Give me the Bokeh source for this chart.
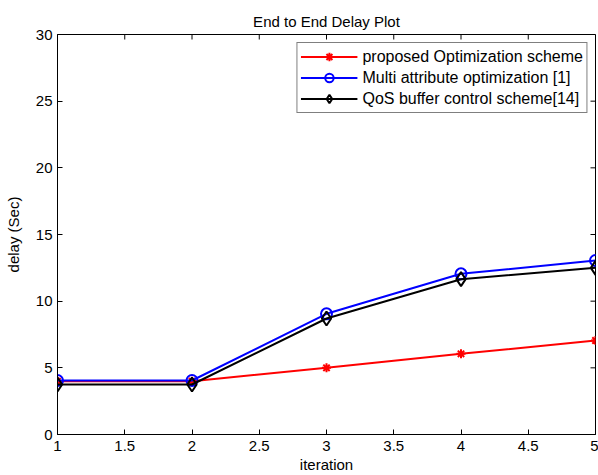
from bokeh.plotting import figure
from bokeh.models import FixedTicker, Range1d, Legend, LegendItem, ColumnDataSource
from bokeh.embed import file_html
from bokeh.resources import INLINE

iteration = [1, 2, 3, 4, 5]
proposed = [4.0, 4.0, 5.0, 6.05, 7.05]
multi_attr = [4.05, 4.05, 9.05, 12.05, 13.05]
qos_buffer = [3.75, 3.75, 8.7, 11.65, 12.5]

x_ticks = [1, 1.5, 2, 2.5, 3, 3.5, 4, 4.5, 5]
y_ticks = [0, 5, 10, 15, 20, 25, 30]

FONT = "Liberation Sans"
X0, X1, Y0, Y1 = 1, 5, 0, 30

p = figure(width=598, height=475, output_backend="svg", toolbar_location=None,
           x_range=Range1d(X0, X1), y_range=Range1d(Y0, Y1),
           min_border_left=57, min_border_right=3, min_border_top=34, min_border_bottom=41,
           title="End to End Delay Plot")
p.title.align = "center"
p.title.text_font = FONT
p.title.text_font_size = "15px"
p.title.text_font_style = "normal"
p.title.text_color = "black"
p.title.offset = 0

p.xgrid.visible = False
p.ygrid.visible = False
p.outline_line_color = "black"
p.outline_line_width = 1

for ax in (p.xaxis[0], p.yaxis[0]):
    ax.axis_line_color = "black"
    ax.major_tick_in = 5
    ax.major_tick_out = 0
    ax.minor_tick_line_color = None
    ax.major_tick_line_color = "black"
    ax.major_label_text_font = FONT
    ax.major_label_text_color = "black"
    ax.major_label_text_font_size = "15px"
    ax.axis_label_text_font = FONT
    ax.axis_label_text_font_size = "15px"
    ax.axis_label_text_font_style = "normal"
    ax.axis_label_text_color = "black"

p.xaxis.ticker = FixedTicker(ticks=x_ticks)
p.yaxis.ticker = FixedTicker(ticks=y_ticks)
p.xaxis.axis_label = "iteration"
p.yaxis.axis_label = "delay (Sec)"
p.xaxis.major_label_standoff = 6
p.yaxis.major_label_standoff = 5
p.xaxis.axis_label_standoff = 2
p.yaxis.axis_label_standoff = 11

# inward ticks on the top and right edges (MATLAB box style)
tx = (X1 - X0) * 5 / 538.0
ty = (Y1 - Y0) * 5 / 400.0
top_ticks = ColumnDataSource(dict(x=x_ticks, y0=[Y1] * len(x_ticks), y1=[Y1 - ty] * len(x_ticks)))
right_ticks = ColumnDataSource(dict(y=y_ticks, x0=[X1] * len(y_ticks), x1=[X1 - tx] * len(y_ticks)))
p.segment(x0="x", y0="y0", x1="x", y1="y1", source=top_ticks, line_color="black", line_width=1)
p.segment(x0="x0", y0="y", x1="x1", y1="y", source=right_ticks, line_color="black", line_width=1)

r1 = p.line(iteration, proposed, line_color="red", line_width=2)
m1 = p.scatter(iteration, proposed, marker="asterisk", size=9, line_color="red", line_width=2)
r2 = p.line(iteration, multi_attr, line_color="blue", line_width=2)
m2 = p.scatter(iteration, multi_attr, marker="circle", size=11, line_color="blue", fill_color=None, line_width=2)
r3 = p.line(iteration, qos_buffer, line_color="black", line_width=2)
m3 = p.scatter(iteration, qos_buffer, marker="diamond", size=14, line_color="black", fill_color=None, line_width=2)

legend = Legend(items=[
    LegendItem(label="proposed Optimization scheme", renderers=[r1, m1]),
    LegendItem(label="Multi attribute optimization [1]", renderers=[r2, m2]),
    LegendItem(label="QoS buffer control scheme[14]", renderers=[r3, m3]),
], location="top_right")
legend.label_text_font = FONT
legend.label_text_font_size = "16px"
legend.label_text_color = "black"
legend.glyph_width = 57
legend.glyph_height = 21
legend.label_height = 21
legend.label_standoff = 5
legend.spacing = 0
legend.padding = 3
legend.margin = 8
legend.border_line_color = "black"
legend.border_line_width = 1
legend.background_fill_alpha = 1
p.add_layout(legend)

open("out.html", "w").write(file_html(p, INLINE))
